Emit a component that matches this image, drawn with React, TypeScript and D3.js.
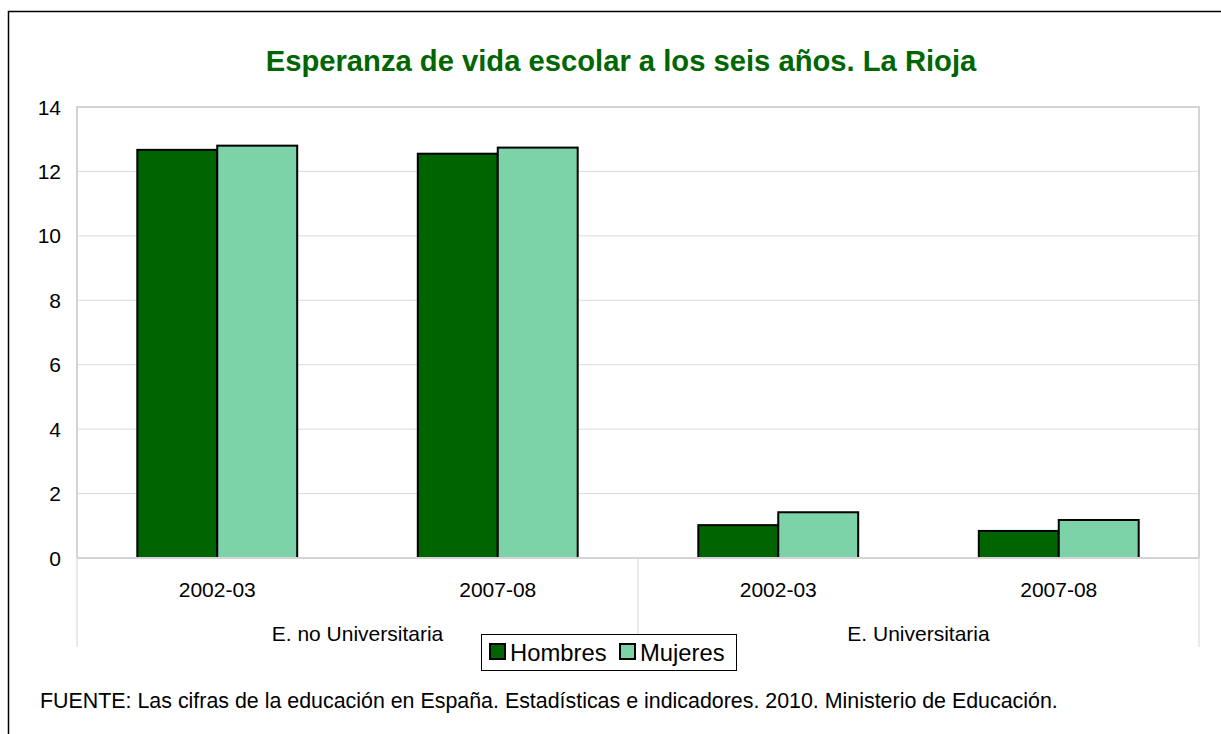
import React from 'react';
import { scaleBand, scaleLinear } from 'd3';

const groups = ['E. no Universitaria', 'E. Universitaria'];
const years = ['2002-03', '2007-08'];
const hombres = [12.67, 12.55, 1.02, 0.84];
const mujeres = [12.8, 12.74, 1.42, 1.18];
const yTicks = [0, 2, 4, 6, 8, 10, 12, 14];
const seriesNames = ['Hombres', 'Mujeres'];
const colors = ['#006400', '#7dd3a8'];

const W = 1221;
const H = 734;
const left = 77, right = 1199, top = 107, bottom = 558;
const font = 'Arial, "Liberation Sans", Helvetica, sans-serif';

const App = () => {
    const cats = groups.flatMap(g => years.map(y => g + '|' + y));

    const x = scaleBand()
        .domain(cats)
        .range([left, right])
        .paddingInner(0.43)
        .paddingOuter(0.215);

    const sub = scaleBand()
        .domain(seriesNames)
        .range([0, x.bandwidth()]);

    const y = scaleLinear().domain([0, 14]).range([bottom, top]);

    const groupW = (right - left) / groups.length;
    const series = [hombres, mujeres];

    return (
        <svg width={W} height={H} style={{ position: 'absolute', left: 0, top: 0 }}>
            <rect x={0} y={0} width={W} height={H} fill="#fff" />
            {/* outer frame */}
            <rect x={8.5} y={11.5} width={W + 20} height={H + 20} fill="none" stroke="#000" strokeWidth={1.5} />

            <text x={621} y={71} textAnchor="middle" fontFamily={font} fontWeight="bold" fontSize={29.2} fill="#006600">
                Esperanza de vida escolar a los seis años. La Rioja
            </text>

            {/* grid */}
            {yTicks.map(t => (
                <g key={t}>
                    <line x1={left} x2={right} y1={y(t)} y2={y(t)} stroke="#dcdcdc" strokeWidth={1} />
                    <text x={61} y={y(t) + 7.5} textAnchor="end" fontFamily={font} fontSize={21} fill="#000">{t}</text>
                </g>
            ))}
            {/* plot border */}
            <line x1={left} x2={right} y1={top} y2={top} stroke="#d4d4d4" strokeWidth={2} />
            <line x1={right} x2={right} y1={top - 1} y2={bottom} stroke="#d4d4d4" strokeWidth={2} />
            <line x1={left} x2={left} y1={top - 1} y2={bottom} stroke="#d4d4d4" strokeWidth={2} />

            {/* bars */}
            {cats.map((c, i) => (
                <g key={c}>
                    {series.map((s, j) => (
                        <rect
                            key={j}
                            x={(x(c) || 0) + (sub(seriesNames[j]) || 0)}
                            y={y(s[i])}
                            width={sub.bandwidth()}
                            height={y(0) - y(s[i])}
                            fill={colors[j]}
                            stroke="#000"
                            strokeWidth={2}
                        />
                    ))}
                </g>
            ))}

            <line x1={left} x2={right} y1={bottom} y2={bottom} stroke="#d4d4d4" strokeWidth={2} />

            {/* category axis */}
            {[0, 1, 2].map(k => (
                <line key={k} x1={left + k * groupW} x2={left + k * groupW} y1={bottom} y2={647} stroke="#d4d4d4" strokeWidth={1} />
            ))}
            {cats.map((c, i) => (
                <text key={c} x={(x(c) || 0) + x.bandwidth() / 2} y={597} textAnchor="middle" fontFamily={font} fontSize={21} fill="#000">
                    {years[i % years.length]}
                </text>
            ))}
            {groups.map((g, k) => (
                <text key={g} x={left + groupW * (k + 0.5)} y={641} textAnchor="middle" fontFamily={font} fontSize={21} fill="#000">
                    {g}
                </text>
            ))}

            {/* legend */}
            <rect x={481.5} y={634.5} width={255} height={36} fill="#fff" stroke="#000" strokeWidth={1} />
            {seriesNames.map((n, j) => {
                const lx = j === 0 ? 490 : 620;
                return (
                    <g key={n}>
                        <rect x={lx} y={644} width={15} height={15} fill={colors[j]} stroke="#000" strokeWidth={2} />
                        <text x={lx + 20} y={661} fontFamily={font} fontSize={23.8} fill="#000">{n}</text>
                    </g>
                );
            })}

            <text x={40} y={708} fontFamily={font} fontSize={21.4} fill="#000">
                FUENTE: Las cifras de la educación en España. Estadísticas e indicadores. 2010. Ministerio de Educación.
            </text>
        </svg>
    );
};

export default App;
